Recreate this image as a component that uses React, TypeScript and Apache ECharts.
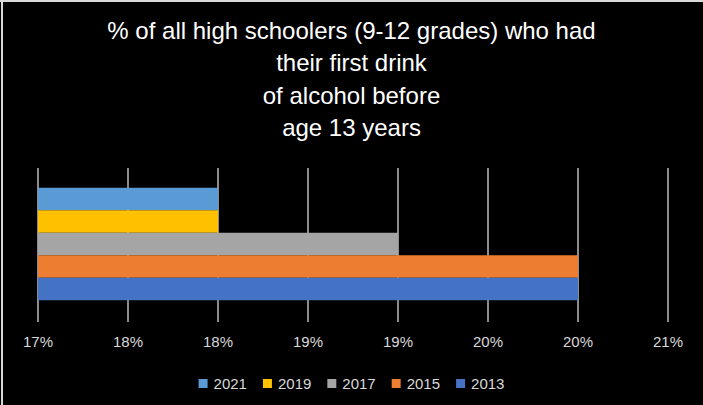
import React, { useEffect, useRef } from "react";
import * as echarts from "echarts";

const titleLines = [
  "% of all high schoolers (9-12 grades) who had",
  "their first drink",
  "of alcohol before",
  "age 13 years",
];
const categories = ["All"];
// series listed top-to-bottom
const seriesNames = ["2021", "2019", "2017", "2015", "2013"];
const seriesValues = [18, 18, 19, 20, 20];
const seriesColors = ["#5B9BD5", "#FFC000", "#A5A5A5", "#ED7D31", "#4472C4"];
const legendOrder = ["2021", "2019", "2017", "2015", "2013"];
const axisMin = 17;
const axisMax = 20.5;
const axisInterval = 0.5;

export default function App() {
  const ref = useRef<HTMLDivElement>(null);
  useEffect(() => {
    if (!ref.current) return;
    const chart = echarts.init(ref.current, undefined, { renderer: "svg" });
    chart.setOption({
      animation: false,
      backgroundColor: "#000000",
      title: {
        text: titleLines.join("\n"),
        left: "center",
        top: 9,
        textStyle: {
          color: "#ffffff",
          fontFamily: "Liberation Sans",
          fontWeight: "normal",
          fontSize: 24,
          lineHeight: 32.5,
        },
      },
      legend: {
        data: legendOrder,
        left: "center",
        top: 371,
        itemWidth: 9,
        itemHeight: 9,
        itemGap: 16,
        icon: "rect",
        textStyle: { color: "#d9d9d9", fontSize: 15, fontFamily: "Liberation Sans", padding: [0, 0, 0, 1] },
      },
      grid: { left: 38, right: 35, top: 168, bottom: 85 },
      xAxis: {
        type: "value",
        min: axisMin,
        max: axisMax,
        interval: axisInterval,
        axisLine: { show: false },
        axisTick: { show: true, length: 2, lineStyle: { color: "#8c8c8c", width: 2 } },
        splitLine: { show: true, lineStyle: { color: "#8c8c8c", width: 2 } },
        axisLabel: {
          color: "#d9d9d9",
          fontSize: 15,
          fontFamily: "Liberation Sans",
          margin: 14,
          formatter: (v: number) => Math.round(v) + "%",
        },
      },
      yAxis: {
        type: "category",
        data: categories,
        axisLine: { show: false },
        axisTick: { show: false },
        axisLabel: { show: false },
      },
      series: seriesNames.map((n, i) => ({
        name: n,
        type: "bar",
        data: [seriesValues[i]],
        barGap: "0%",
        barCategoryGap: "26%",
        itemStyle: { color: seriesColors[i] },
      })),
      graphic: [
        { type: "rect", shape: { x: 0, y: 0, width: 703, height: 2 }, style: { fill: "#d9d9d9" } },
        { type: "rect", shape: { x: 1, y: 0, width: 2, height: 405 }, style: { fill: "#d9d9d9" } },
      ],
    });
    return () => chart.dispose();
  }, []);
  return (
    <div
      ref={ref}
      style={{ position: "absolute", left: 0, top: 0, width: 703, height: 405 }}
    />
  );
}
